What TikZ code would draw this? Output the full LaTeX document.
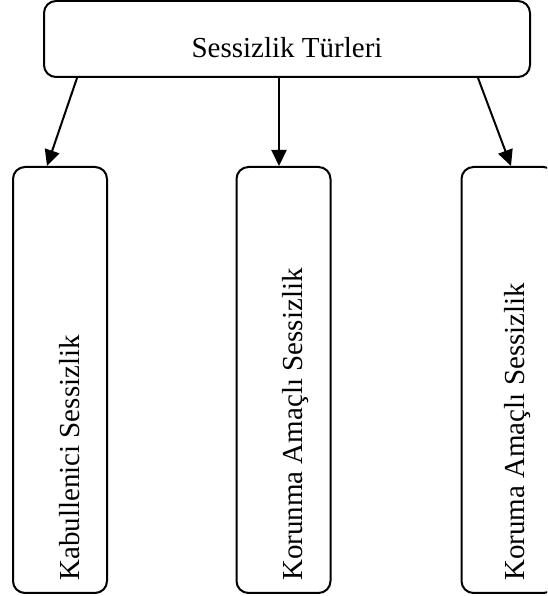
\documentclass[tikz,border=0pt]{standalone}
\usepackage{fontspec}
\setmainfont{Liberation Serif}
\usetikzlibrary{arrows.meta}

\tikzset{
  kutu/.style={draw=black, line width=2pt, rounded corners=12pt, inner sep=0pt},
  altkutu/.style={kutu, minimum width=94pt, minimum height=426pt},
  yazi/.style={font=\fontsize{29}{35}\selectfont, inner sep=0pt},
  ok/.style={line width=2pt, -{Triangle[length=16pt,width=15pt]}}
}

\begin{document}
\begin{tikzpicture}[x=1pt,y=1pt]
  \useasboundingbox (0,0) rectangle (547,596);
  \clip (0,0) rectangle (547,596);
    % top box
    \node[kutu, minimum width=486pt, minimum height=76pt] (turler) at (287,557) {};
    \node[yazi, anchor=base] (turlerYazi) at ([yshift=20pt]turler.south) {Sessizlik Türleri};
    % lower boxes
    \node[altkutu] (kabul) at (60,216) {};
    \node[altkutu] (korunma) at (283.5,216) {};
    \node[altkutu] (koruma) at (508.5,216) {};
    \node[yazi, rotate=90, anchor=base west] (kabulYazi) at ([xshift=19pt,yshift=13pt]kabul.south) {Kabullenici Sessizlik};
    \node[yazi, rotate=90, anchor=base west] (korunmaYazi) at ([xshift=19pt,yshift=13pt]korunma.south) {Korunma Amaçlı Sessizlik};
    \node[yazi, rotate=90, anchor=base west] (korumaYazi) at ([xshift=16pt,yshift=13pt]koruma.south) {Koruma Amaçlı Sessizlik};
    % arrows
    \draw[ok] ([xshift=-210pt]turler.south) -- ([xshift=-13pt]kabul.north);
    \draw[ok] ([xshift=-8pt]turler.south) -- ([xshift=-8pt]turler.south |- korunma.north);
    \draw[ok] ([xshift=191pt]turler.south) -- ([xshift=2.5pt]koruma.north);
\end{tikzpicture}
\end{document}
